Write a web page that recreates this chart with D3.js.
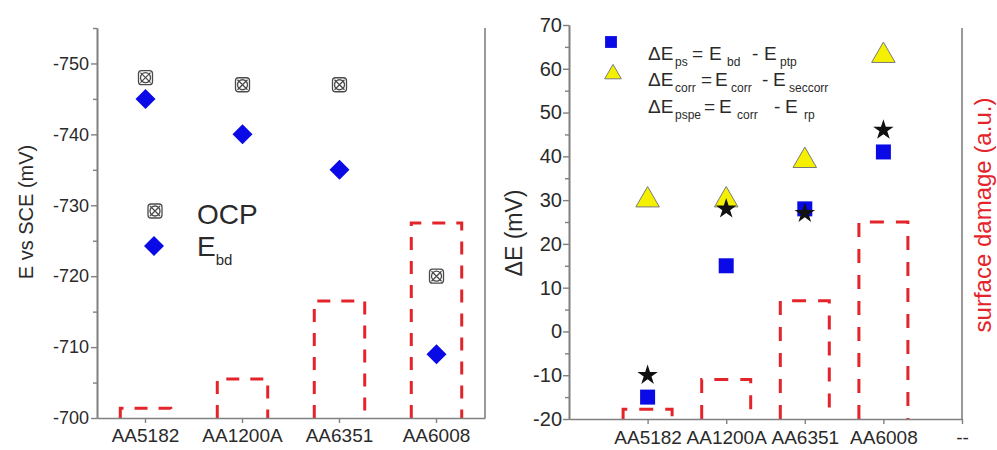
<!DOCTYPE html>
<html>
<head>
<meta charset="utf-8">
<script src="https://cdn.jsdelivr.net/npm/d3@7"></script>
<style>
  body { margin: 0; background: #fff; }
  svg { font-family: Arial, "Liberation Sans", sans-serif; }
</style>
</head>
<body>
<svg id="chart" width="997" height="450"></svg>
<script>
const categories = ["AA5182", "AA1200A", "AA6351", "AA6008"];
const rightCategories = ["AA5182", "AA1200A", "AA6351", "AA6008", "--"];

// left panel (mV vs SCE)
const ocp = [-748, -747, -747, -720];
const eBd = [-745, -740, -735, -709];
const leftTicks = [-750, -740, -730, -720, -710, -700];
const leftMinor = [-755, -745, -735, -725, -715, -705];

// surface damage (a.u.), same in both panels
const damage = [0.5, 2, 6, 10];

// right panel (mV)
const dEps = [-15, 15, 28, 41];
const dEcorr = [30, 30, 39, 63];
const dEpspe = [-10, 28, 27, 46];
const rightTicks = [-20, -10, 0, 10, 20, 30, 40, 50, 60, 70];
const rightMinor = [-15, -5, 5, 15, 25, 35, 45, 55, 65];

const svg = d3.select("#chart");
const axisGray = "#808080";
const textCol = "#2a2a2a";
const red = "#e3242b";
const blue = "#0a0ae6";
const plain = d => String(d);   // keep the hyphen-minus of the original

function styleAxis(g, fontSize) {
    g.selectAll("path.domain").attr("stroke", axisGray).attr("stroke-width", 1.6);
    g.selectAll(".tick line").attr("stroke", axisGray).attr("stroke-width", 1.4);
    g.selectAll("text").attr("fill", textCol).attr("font-size", fontSize);
}

function ocpMarker(g, cx, cy) {
    const m = g.append("g").attr("transform", `translate(${cx},${cy})`)
        .attr("fill", "none").attr("stroke", "#4a4a4a").attr("stroke-width", 1.3);
    m.append("rect").attr("x", -7).attr("y", -7).attr("width", 14).attr("height", 14).attr("rx", 3);
    m.append("circle").attr("r", 5);
    m.append("path").attr("d", "M-5,-5L5,5M-5,5L5,-5");
}

// ---------- LEFT PANEL ----------
const L = { x0: 97, x1: 485, top: 28, bot: 418 };
const xL = d3.scaleBand().domain(categories).range([L.x0, L.x1]);
const yL = d3.scaleLinear().domain([-700, -755]).range([L.bot, L.top]);
const dmgL = d3.scaleLinear().domain([0, 20]).range([L.bot, L.top]);

// damage bars (dashed outline)
const bwL = xL.bandwidth() * 0.52;
svg.append("g").selectAll("path")
    .data(damage)
    .join("path")
    .attr("d", (d, i) => {
        const cx = xL(categories[i]) + xL.bandwidth() / 2;
        return `M${cx - bwL / 2},${L.bot}V${dmgL(d)}H${cx + bwL / 2}V${L.bot}`;
    })
    .attr("fill", "none").attr("stroke", red).attr("stroke-width", 3)
    .attr("stroke-dasharray", "13,11");

// right frame line
svg.append("line").attr("x1", L.x1).attr("x2", L.x1).attr("y1", L.top).attr("y2", L.bot)
    .attr("stroke", axisGray).attr("stroke-width", 1.6);

const gyL = svg.append("g").attr("transform", `translate(${L.x0},0)`)
    .call(d3.axisLeft(yL).tickValues(leftTicks).tickFormat(plain).tickSize(6).tickSizeOuter(0).tickPadding(2));
styleAxis(gyL, 18);
svg.append("g").attr("transform", `translate(${L.x0},0)`)
    .call(d3.axisLeft(yL).tickValues(leftMinor).tickSize(4).tickSizeOuter(0).tickFormat(""))
    .call(g => styleAxis(g, 0));

const gxL = svg.append("g").attr("transform", `translate(0,${L.bot})`)
    .call(d3.axisBottom(xL).tickSize(5).tickSizeOuter(0).tickPadding(6));
styleAxis(gxL, 19);

svg.append("text")
    .attr("transform", `translate(33,212) rotate(-90)`)
    .attr("text-anchor", "middle").attr("font-size", 20).attr("fill", textCol)
    .text("E vs SCE (mV)");

// markers
const gmL = svg.append("g");
ocp.forEach((v, i) => ocpMarker(gmL, xL(categories[i]) + xL.bandwidth() / 2, yL(v)));
gmL.selectAll("path.ebd")
    .data(eBd)
    .join("path")
    .attr("class", "ebd")
    .attr("d", d3.symbol(d3.symbolSquare, 200))
    .attr("transform", (d, i) => `translate(${xL(categories[i]) + xL.bandwidth() / 2},${yL(d)}) rotate(45)`)
    .attr("fill", blue);

// left legend
ocpMarker(svg, 155, 211);
svg.append("path").attr("d", d3.symbol(d3.symbolSquare, 200))
    .attr("transform", "translate(154,246) rotate(45)").attr("fill", blue);
svg.append("text").attr("x", 197).attr("y", 224).attr("font-size", 28).attr("fill", textCol).text("OCP");
const lgE = svg.append("text").attr("x", 197).attr("y", 256).attr("font-size", 28).attr("fill", textCol);
lgE.append("tspan").text("E");
lgE.append("tspan").attr("dy", 9).attr("font-size", 15).text("bd");

// ---------- RIGHT PANEL ----------
const R = { x0: 569, x1: 962, top: 25, bot: 419 };
const xR = d3.scaleLinear().domain([0, rightCategories.length]).range([R.x0, R.x1]);
const yR = d3.scaleLinear().domain([-20, 70]).range([R.bot, R.top]);
const dmgR = d3.scaleLinear().domain([0, 20]).range([R.bot, R.top]);
const cxR = i => xR(i + 1);

const bwR = 49;
svg.append("g").selectAll("path")
    .data(damage)
    .join("path")
    .attr("d", (d, i) => `M${cxR(i) - bwR / 2},${R.bot}V${dmgR(d)}H${cxR(i) + bwR / 2}V${R.bot}`)
    .attr("fill", "none").attr("stroke", red).attr("stroke-width", 3)
    .attr("stroke-dasharray", "14,12");

svg.append("line").attr("x1", R.x1).attr("x2", R.x1).attr("y1", R.top + 3).attr("y2", R.bot)
    .attr("stroke", axisGray).attr("stroke-width", 1.6);

const gyR = svg.append("g").attr("transform", `translate(${R.x0},0)`)
    .call(d3.axisLeft(yR).tickValues(rightTicks).tickFormat(plain).tickSize(6).tickSizeOuter(0).tickPadding(1));
styleAxis(gyR, 20);
svg.append("g").attr("transform", `translate(${R.x0},0)`)
    .call(d3.axisLeft(yR).tickValues(rightMinor).tickSize(4).tickSizeOuter(0).tickFormat(""))
    .call(g => styleAxis(g, 0));

const gxR = svg.append("g").attr("transform", `translate(0,${R.bot})`)
    .call(d3.axisBottom(xR).tickValues(d3.range(1, rightCategories.length + 1))
        .tickFormat(i => rightCategories[i - 1]).tickSize(5).tickSizeOuter(0).tickPadding(7));
styleAxis(gxR, 19);

svg.append("text")
    .attr("transform", `translate(522,233) rotate(-90)`)
    .attr("text-anchor", "middle").attr("font-size", 23).attr("fill", textCol)
    .text("ΔE (mV)");

svg.append("text")
    .attr("transform", `translate(991,215) rotate(-90)`)
    .attr("text-anchor", "middle").attr("font-size", 24).attr("fill", red)
    .text("surface damage (a.u.)");

// markers
const gmR = svg.append("g");
gmR.selectAll("path.tri")
    .data(dEcorr)
    .join("path")
    .attr("d", d3.symbol(d3.symbolTriangle, 240))
    .attr("transform", (d, i) => `translate(${cxR(i)},${yR(d)})`)
    .attr("fill", "#f4f000").attr("stroke", "#7a7a7a").attr("stroke-width", 1);
gmR.selectAll("path.sq")
    .data(dEps)
    .join("path")
    .attr("d", d3.symbol(d3.symbolSquare, 225))
    .attr("transform", (d, i) => `translate(${cxR(i)},${yR(d)})`)
    .attr("fill", blue);
gmR.selectAll("path.star")
    .data(dEpspe)
    .join("path")
    .attr("d", d3.symbol(d3.symbolStar, 130))
    .attr("transform", (d, i) => `translate(${cxR(i)},${yR(d)})`)
    .attr("fill", "#111");

// right legend
svg.append("path").attr("d", d3.symbol(d3.symbolSquare, 140))
    .attr("transform", "translate(611,42)").attr("fill", blue);
svg.append("path").attr("d", d3.symbol(d3.symbolTriangle, 120))
    .attr("transform", "translate(613,74)").attr("fill", "#f4f000").attr("stroke", "#7a7a7a");

const legendRows = [
    { y: 60, segs: [["ΔE", 648], ["ps", 675, 1], ["=", 692], ["E", 709], ["bd", 727, 1], ["-", 752], ["E", 764], ["ptp", 780, 1]] },
    { y: 86, segs: [["ΔE", 648], ["corr", 675, 1], ["=", 701], ["E", 715], ["corr", 731, 1], ["-", 762], ["E", 773], ["seccorr", 789, 1]] },
    { y: 113, segs: [["ΔE", 648], ["pspe", 675, 1], ["=", 704], ["E", 719], ["corr", 737, 1], ["-", 774], ["E", 785], ["rp", 804, 1]] }
];
legendRows.forEach(row => {
    row.segs.forEach(([t, x, sub]) => {
        svg.append("text")
            .attr("x", x).attr("y", sub ? row.y + 6 : row.y)
            .attr("font-size", sub ? 12 : 19).attr("fill", textCol)
            .text(t);
    });
});
</script>
</body>
</html>
